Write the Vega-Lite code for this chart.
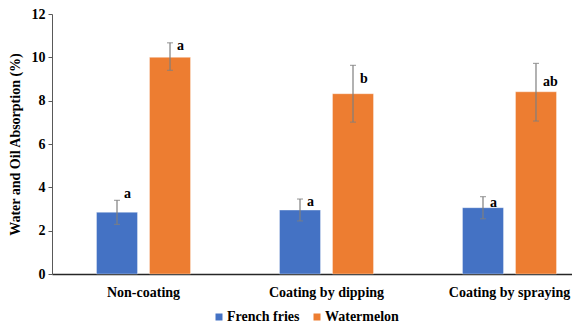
{
  "$schema": "https://vega.github.io/schema/vega-lite/v6.json",
  "autosize": "none",
  "width": 549,
  "height": 260,
  "padding": {"left": 52, "top": 14, "right": 0, "bottom": 52},
  "background": "white",
  "config": {
    "view": {"stroke": null},
    "font": "Liberation Serif, Times New Roman, serif",
    "axis": {"labelFont": "Liberation Serif, Times New Roman, serif", "titleFont": "Liberation Serif, Times New Roman, serif", "labelFontWeight": "bold", "titleFontWeight": "bold", "labelColor": "black", "titleColor": "black", "grid": false},
    "legend": {"labelFont": "Liberation Serif, Times New Roman, serif", "labelFontWeight": "bold"}
  },
  "data": {
    "values": [
      {"group": "Non-coating", "series": "French fries", "mean": 2.85, "lo": 2.29, "hi": 3.40, "letter": "a", "labelAt": 3.69},
      {"group": "Non-coating", "series": "Watermelon", "mean": 10.0, "lo": 9.40, "hi": 10.67, "letter": "a", "labelAt": 10.54},
      {"group": "Coating by dipping", "series": "French fries", "mean": 2.95, "lo": 2.45, "hi": 3.46, "letter": "a", "labelAt": 3.34},
      {"group": "Coating by dipping", "series": "Watermelon", "mean": 8.32, "lo": 7.01, "hi": 9.63, "letter": "b", "labelAt": 9.0},
      {"group": "Coating by spraying", "series": "French fries", "mean": 3.06, "lo": 2.55, "hi": 3.57, "letter": "a", "labelAt": 3.28},
      {"group": "Coating by spraying", "series": "Watermelon", "mean": 8.41, "lo": 7.06, "hi": 9.72, "letter": "ab", "labelAt": 8.86}
    ]
  },
  "encoding": {
    "x": {
      "field": "group", "type": "nominal", "sort": null,
      "scale": {"paddingInner": 0.4863, "paddingOuter": 0.2432},
      "axis": {"title": null, "labelAngle": 0, "ticks": false, "labelFontSize": 14, "labelPadding": 11, "domainColor": "#262626", "domainWidth": 1.5}
    },
    "xOffset": {"field": "series", "type": "nominal", "scale": {"paddingInner": 0.2264, "paddingOuter": 0}}
  },
  "layer": [
    {
      "mark": {"type": "bar", "stroke": "white", "strokeOpacity": 0.35, "strokeWidth": 1},
      "encoding": {
        "y": {
          "field": "mean", "type": "quantitative",
          "scale": {"domain": [0, 12], "nice": false},
          "axis": {"title": "Water and Oil Absorption (%)", "titleFontSize": 14, "titlePadding": 9, "values": [0, 2, 4, 6, 8, 10, 12], "labelFontSize": 14, "tickSize": 4, "labelPadding": 3, "tickColor": "#595959", "domainColor": "#595959"}
        },
        "color": {
          "field": "series", "type": "nominal",
          "scale": {"domain": ["French fries", "Watermelon"], "range": ["#4472C4", "#ED7D31"]},
          "legend": {"title": null, "orient": "none", "legendX": 160, "legendY": 296, "direction": "horizontal", "symbolType": "square", "symbolSize": 49, "symbolStrokeWidth": 0, "labelFontSize": 14, "labelOffset": 1, "columnPadding": 10, "labelColor": "black"}
        }
      }
    },
    {
      "mark": {"type": "rule", "color": "#7f7f7f", "strokeWidth": 1.2},
      "encoding": {
        "y": {"field": "lo", "type": "quantitative"},
        "y2": {"field": "hi"}
      }
    },
    {
      "mark": {"type": "tick", "color": "#7f7f7f", "thickness": 1.2, "size": 6},
      "encoding": {"y": {"field": "hi", "type": "quantitative"}}
    },
    {
      "mark": {"type": "tick", "color": "#7f7f7f", "thickness": 1.2, "size": 6},
      "encoding": {"y": {"field": "lo", "type": "quantitative"}}
    },
    {
      "mark": {"type": "text", "align": "left", "baseline": "middle", "dx": 7, "fontSize": 14, "fontWeight": "bold", "font": "Liberation Serif, Times New Roman, serif", "color": "black"},
      "encoding": {
        "y": {"field": "labelAt", "type": "quantitative"},
        "text": {"field": "letter"}
      }
    }
  ]
}
